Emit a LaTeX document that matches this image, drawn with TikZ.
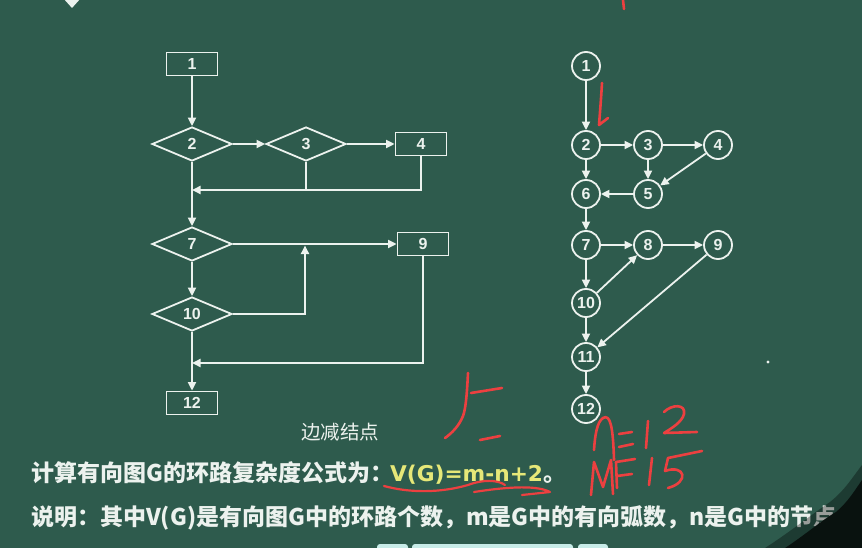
\documentclass[tikz,border=0pt]{standalone}
\usepackage{fontspec}
\setmainfont{Liberation Sans}
\newfontfamily\cjk{Noto Sans CJK SC}
\newfontfamily\wide{DejaVu Sans}
\usetikzlibrary{shapes.geometric,arrows.meta}
\definecolor{board}{RGB}{46,91,77}
\definecolor{chalk}{RGB}{236,242,238}
\definecolor{ylw}{RGB}{230,232,120}
\definecolor{redink}{RGB}{236,64,64}
\definecolor{btn}{RGB}{200,236,232}
\begin{document}
\begin{tikzpicture}[x=1pt,y=-1pt,
  flow/.style={draw=chalk, line width=1.8pt, text=chalk, font=\bfseries\fontsize{16}{16}\selectfont, inner sep=0pt},
  fbox/.style={flow, rectangle, minimum width=51pt, minimum height=23pt},
  fdia/.style={flow, diamond, minimum width=80pt, minimum height=34pt},
  gnode/.style={flow, circle, minimum size=28pt},
  conn/.style={draw=chalk, line width=1.8pt, -{Triangle[length=8.5pt,width=8pt]}},
  plainline/.style={draw=chalk, line width=1.8pt},
  ink/.style={draw=redink, line width=2.6pt, line cap=round, line join=round},
  bodytext/.style={anchor=west, text=chalk, inner sep=0pt, font=\cjk\bfseries\fontsize{23}{23}\selectfont},
]
\useasboundingbox (0,0) rectangle (862,548);
\fill[board] (0,0) rectangle (862,548);
\clip (0,0) rectangle (862,548);

% top-left partial icon
\fill[chalk] (63,-2) -- (81,-2) -- (72,8) -- cycle;

% ---------- left flowchart ----------
\node[fbox] (b1) at (192,64) {1};
\node[fdia] (d2) at (192,144) {2};
\node[fdia] (d3) at (306,144) {3};
\node[fbox] (b4) at (421,144) {4};
\node[fdia] (d7) at (192,244) {7};
\node[fbox] (b9) at (423,244) {9};
\node[fdia] (d10) at (192,314) {10};
\node[fbox] (b12) at (192,403) {12};
\coordinate (j1) at (306,190);
\coordinate (j2) at (192,190);
\coordinate (j3) at (305,244);
\coordinate (j4) at (192,363);

\draw[conn] (b1) -- (d2);
\draw[conn] (d2) -- (d3);
\draw[conn] (d3) -- (b4);
\draw[plainline] (d3.south) -- (j1);
\draw[conn] (b4.south) |- (j2);
\draw[conn] (d2) -- (d7);
\draw[conn] (d7) -- (b9);
\draw[conn] (d7) -- (d10);
\draw[conn, shorten >=1.5pt] (d10.east) -| (j3);
\draw[conn] (b9.south) |- (j4);
\draw[conn] (d10) -- (b12);

% ---------- right graph ----------
\node[gnode] (g1) at (586,66) {1};
\node[gnode] (g2) at (586,145) {2};
\node[gnode] (g3) at (648,145) {3};
\node[gnode] (g4) at (718,145) {4};
\node[gnode] (g6) at (586,194) {6};
\node[gnode] (g5) at (648,194) {5};
\node[gnode] (g7) at (586,245) {7};
\node[gnode] (g8) at (648,245) {8};
\node[gnode] (g9) at (718,245) {9};
\node[gnode] (g10) at (586,303) {10};
\node[gnode] (g11) at (586,357) {11};
\node[gnode] (g12) at (586,409) {12};

\draw[conn] (g1) -- (g2);
\draw[conn] (g2) -- (g3);
\draw[conn] (g3) -- (g4);
\draw[conn] (g2) -- (g6);
\draw[conn] (g3) -- (g5);
\draw[conn] (g4) -- (g5);
\draw[conn] (g5) -- (g6);
\draw[conn] (g6) -- (g7);
\draw[conn] (g7) -- (g8);
\draw[conn] (g8) -- (g9);
\draw[conn] (g7) -- (g10);
\draw[conn] (g10) -- (g8);
\draw[conn] (g9) -- (g11);
\draw[conn] (g10) -- (g11);
\draw[conn] (g11) -- (g12);

\fill[chalk] (768,362) circle (1.6pt);

% ---------- texts ----------
\node[anchor=center, text=chalk, inner sep=0pt, font=\cjk\fontsize{19.5}{19.5}\selectfont] (t0) at (340,432) {边减结点};
\node[bodytext] (t1) at (31,473) {计算有向图G的环路复杂度公式为：\hspace{-3pt}\textcolor{ylw}{\wide\bfseries\fontsize{21.7}{23}\selectfont V(G)=m-n+2}。};
\node[bodytext] (t2) at (31,518) {说明：其中V(G)是有向图G中的环路个数，m是G中的有向弧数，n是G中的节点};

% ---------- red handwriting ----------
\draw[ink] (623,0) -- (624,9);
\draw[ink] (602,83) .. controls (601,100) and (600,112) .. (599,125) -- (608,118);
% "5 -"
\draw[ink] (468,373) .. controls (467,392) and (466,408) .. (463,416) .. controls (459,426) and (452,433) .. (445,438);
\draw[ink] (471,393) -- (502,388);
\draw[ink] (480,440) -- (500,436);
% n=12
\draw[ink] (594,450) .. controls (595,435) and (597,422) .. (603,418) .. controls (610,414) and (613,425) .. (614,460);
\draw[ink] (619,434) -- (632,432);
\draw[ink] (619,447) -- (633,444);
\draw[ink] (648,421) -- (646,448);
\draw[ink] (664,412) .. controls (672,404) and (686,404) .. (684,414) .. controls (682,422) and (672,428) .. (664,433) -- (697,432);
% m=15
\draw[ink] (591,495) -- (594,462) -- (603,487) -- (611,460) -- (613,494);
\draw[ink] (616,462) -- (617,488);
\draw[ink] (616,462) -- (635,459);
\draw[ink] (617,476) -- (632,474);
\draw[ink] (652,458) -- (649,485);
\draw[ink] (668,458) -- (702,451);
\draw[ink] (668,458) -- (665,471) .. controls (685,464) and (690,482) .. (668,488);
% underline
\draw[ink, line width=2.2pt] (384,486) .. controls (410,493) and (440,493) .. (468,485) .. controls (484,479) and (498,480) .. (505,485);
\draw[ink, line width=2.2pt] (474,492) .. controls (500,488) and (535,484) .. (550,492) -- (522,495);

% ---------- bottom buttons ----------
\fill[btn, rounded corners=3pt] (377,544) rectangle (408,556);
\fill[btn, rounded corners=3pt] (412,544) rectangle (573,556);
\fill[btn, rounded corners=3pt] (578,544) rectangle (608,556);

% ---------- shadow bottom-right ----------
\fill[black, opacity=0.35] (765,548) .. controls (790,532) and (815,512) .. (830,502) .. controls (845,490) and (852,478) .. (862,465) -- (862,548) -- cycle;
\fill[black!80!board] (785,548) .. controls (805,535) and (822,520) .. (836,512) .. controls (848,502) and (855,490) .. (862,480) -- (862,548) -- cycle;
\end{tikzpicture}
\end{document}
